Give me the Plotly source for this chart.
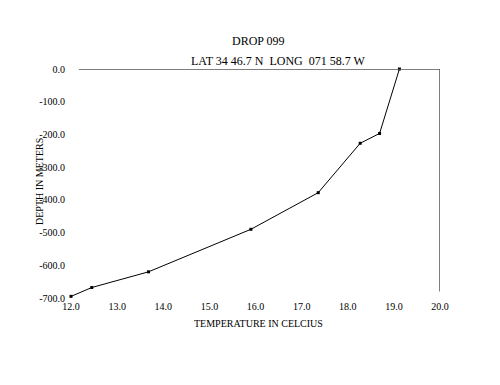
import plotly.graph_objects as go

# Data
temperature = [12.0, 12.45, 13.68, 15.90, 17.36, 18.27, 18.69, 19.12]
depth = [-695, -668, -620, -490, -378, -227, -197, 0]

x_ticks = [12.0, 13.0, 14.0, 15.0, 16.0, 17.0, 18.0, 19.0, 20.0]
x_ticktext = ["12.0", "13.0", "14.0", "15.0", "16.0", "17.0", "18.0", "19.0", "20.0"]
y_ticks = [0, -100, -200, -300, -400, -500, -600, -700]
y_ticktext = ["0.0", "-100.0", "-200.0", "-300.0", "-400.0", "-500.0", "-600.0", "-700.0"]

title_text = "DROP 099"
subtitle_text = "LAT 34 46.7 N&nbsp;&nbsp;LONG&nbsp;&nbsp;071 58.7 W"
x_title = "TEMPERATURE IN CELCIUS"
y_title = "DEPTH IN METERS"

FONT = "Liberation Serif, Times New Roman, serif"

# page body has an 8px default margin; plot area target: x 71..440, y 69..298
OFF = 8
L, T, PW, PH = 71 - OFF, 69 - OFF, 369, 229

fig = go.Figure()
fig.add_trace(go.Scatter(
    x=temperature, y=depth, mode="lines+markers",
    line=dict(color="black", width=1),
    marker=dict(symbol="square", size=3, color="black"),
    cliponaxis=False, showlegend=False,
))

# top axis line (x axis crossing at 0) and right axis line (y axis at 20)
fig.add_shape(type="line", xref="x", yref="y", x0=12.17, x1=20, y0=0, y1=0,
              line=dict(color="#555555", width=1.5))
fig.add_shape(type="line", xref="x", yref="y", x0=20, x1=20, y0=0, y1=-680,
              line=dict(color="#555555", width=1.5))

fig.update_layout(
    width=500, height=385,
    margin=dict(l=L, r=500 - L - PW, t=T, b=385 - T - PH),
    paper_bgcolor="white", plot_bgcolor="white",
    font=dict(family=FONT, color="black", size=10),
    xaxis=dict(range=[12, 20], showgrid=False, zeroline=False, showline=False,
               tickvals=x_ticks, ticktext=x_ticktext, ticks="",
               ticklabelstandoff=1, tickfont=dict(size=10, family=FONT)),
    yaxis=dict(range=[-700, 0], showgrid=False, zeroline=False, showline=False,
               tickvals=y_ticks, ticktext=y_ticktext, ticks="",
               ticklabelstandoff=5, tickfont=dict(size=10, family=FONT)),
    annotations=[
        dict(text=title_text, xref="paper", yref="paper", x=(258-71)/PW, y=1 + (69-41)/PH,
             showarrow=False, font=dict(size=12, family=FONT), xanchor="center", yanchor="middle"),
        dict(text=subtitle_text, xref="paper", yref="paper", x=(278-71)/PW, y=1 + (69-61)/PH,
             showarrow=False, font=dict(size=12, family=FONT), xanchor="center", yanchor="middle"),
        dict(text=x_title, xref="paper", yref="paper", x=(258-71)/PW, y=-(323-298)/PH,
             showarrow=False, font=dict(size=10, family=FONT), xanchor="center", yanchor="middle"),
        dict(text=y_title, xref="paper", yref="paper", x=-(71-39)/PW, y=(298-182)/PH,
             showarrow=False, textangle=-90, font=dict(size=10, family=FONT),
             xanchor="center", yanchor="middle"),
    ],
)

fig.write_html("out.html")
